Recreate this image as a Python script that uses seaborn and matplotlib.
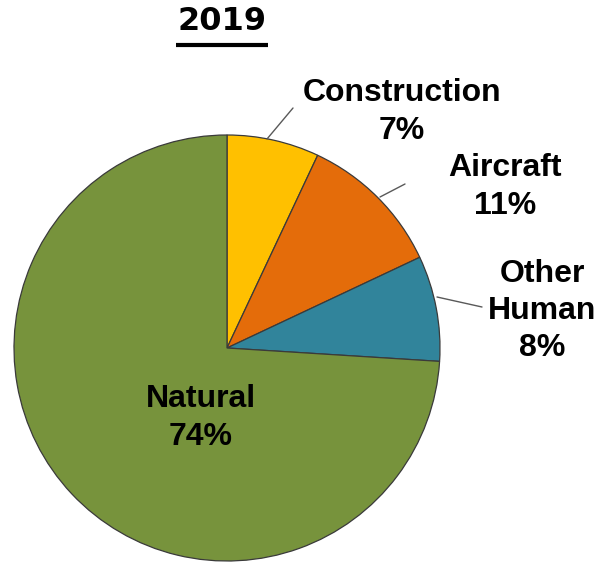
import numpy as np
import matplotlib
matplotlib.use("Agg")
import matplotlib.pyplot as plt
import seaborn as sns

# Noise sources, 2019 share (%)
categories = ["Construction", "Aircraft", "Other\nHuman", "Natural"]
shares = [7, 11, 8, 74]
colors = ["#FFC000", "#E46C0A", "#31849B", "#77933C"]
title_text = "2019"

sns.set_theme(style="white")
plt.rcParams["font.family"] = ["Liberation Sans", "DejaVu Sans"]

W, H = 613, 565
fig = plt.figure(figsize=(W / 100, H / 100), dpi=100)
ax = fig.add_axes([0, 0, 1, 1])

# pixel-style layout: x to the right, y measured from the top
cx, cy, R = 227, H - 348, 213
wedges, _ = ax.pie(
    shares,
    colors=sns.color_palette(colors),
    startangle=90,
    counterclock=False,
    center=(cx, cy),
    radius=R,
    wedgeprops=dict(edgecolor="#3a3a3a", linewidth=0.9),
)
ax.set_xlim(0, W)
ax.set_ylim(0, H)
ax.set_aspect("equal")
ax.axis("off")

# label block centres and leader lines (start on the rim, end near the label)
label_pos = [(402, 112), (505, 187), (542, 311), (201, 418)]
leaders = [((267, 139), (293, 108)), ((380, 197), (405, 184)),
           ((437, 297), (482, 307)), None]

for cat, val, (lx, ly), ld in zip(categories, shares, label_pos, leaders):
    ax.text(lx, H - ly, f"{cat}\n{val}%", ha="center", va="center",
            fontsize=23, fontweight="bold", color="black", linespacing=1.32)
    if ld is not None:
        (sx, sy), (ex, ey) = ld
        ax.plot([sx, ex], [H - sy, H - ey], color="#595959", lw=1.0)

# underlined title
ax.text(222, H - 22, title_text, ha="center", va="center", fontsize=23,
        fontweight="bold", family=["DejaVu Sans"], color="black")
ax.plot([176, 268], [H - 44.7, H - 44.7], color="black", lw=3, solid_capstyle="butt")

fig.savefig("out.png", dpi=100, facecolor="white")
